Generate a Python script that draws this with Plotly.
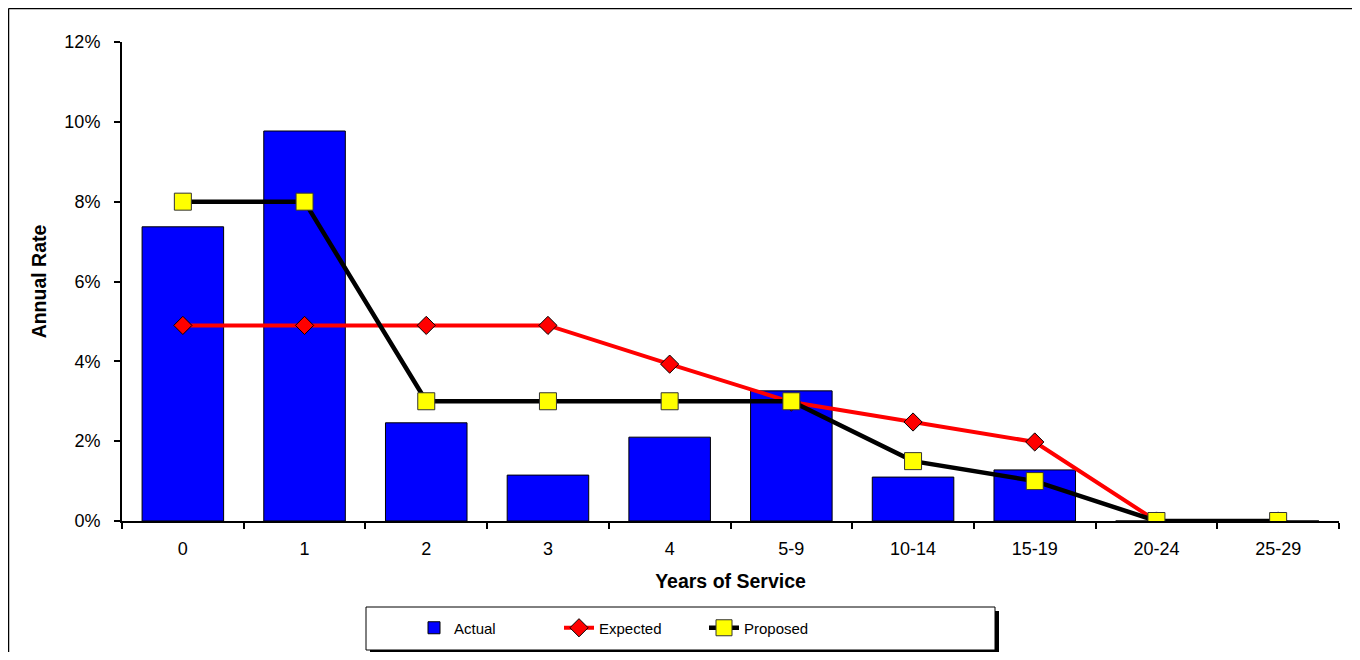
import plotly.graph_objects as go

categories = ["0", "1", "2", "3", "4", "5-9", "10-14", "15-19", "20-24", "25-29"]
actual = [0.0737, 0.0977, 0.0246, 0.0115, 0.0210, 0.0326, 0.0110, 0.0128, 0.0, 0.0]
expected = [0.049, 0.049, 0.049, 0.049, 0.0393, 0.0298, 0.0248, 0.0198, 0.0, 0.0]
proposed = [0.08, 0.08, 0.03, 0.03, 0.03, 0.03, 0.015, 0.01, 0.0, 0.0]
y_ticks = [0, 0.02, 0.04, 0.06, 0.08, 0.10, 0.12]

FONT = "Liberation Sans, Arial, sans-serif"

fig = go.Figure()
fig.add_trace(go.Bar(
    x=categories, y=actual, name="Actual",
    marker=dict(color="#0000FF", line=dict(color="black", width=1)),
))
fig.add_trace(go.Scatter(
    x=categories, y=expected, name="Expected", mode="lines+markers",
    line=dict(color="#FF0000", width=4),
    marker=dict(symbol="diamond", size=14, color="#FF0000", line=dict(color="#000000", width=1)),
))
fig.add_trace(go.Scatter(
    x=categories, y=proposed, name="Proposed", mode="lines+markers",
    line=dict(color="#000000", width=4.5),
    marker=dict(symbol="square", size=17, color="#FFFF00", line=dict(color="#333333", width=1)),
))

# page has an 8px body margin; work in page pixels and shift
OFF = 8
W, H = 1360 - 2 * OFF, 660 - 2 * OFF
L, R, T, B = 122, 1339, 42, 521  # page pixels of plot area
pw, ph = R - L, B - T

def px(x):
    return (x - L) / pw

def py(y):
    return (B - y) / ph

def cy(y):
    # container coordinate from page y
    return 1 - (y - OFF) / H

def cx(x):
    return (x - OFF) / W

shapes = [
    # outer chart border (top and left visible)
    dict(type="line", xref="paper", yref="paper",
         x0=px(OFF + 0.5), x1=px(OFF + 0.5), y0=py(OFF + 0.5), y1=py(700),
         line=dict(color="#000000", width=1.5)),
    dict(type="line", xref="paper", yref="paper",
         x0=px(OFF + 0.5), x1=px(1400), y0=py(OFF + 0.5), y1=py(OFF + 0.5),
         line=dict(color="#000000", width=1.5)),
    # legend shadow
    dict(type="rect", xref="paper", yref="paper",
         x0=px(370), x1=px(999), y0=py(611), y1=py(654),
         line=dict(width=0), fillcolor="#000000", layer="above"),
    # legend box
    dict(type="rect", xref="paper", yref="paper",
         x0=px(366), x1=px(995), y0=py(607), y1=py(650),
         line=dict(color="#000000", width=1), fillcolor="#FFFFFF", layer="above"),
]

fig.update_layout(
    width=W, height=H,
    margin=dict(l=L - OFF, r=(W + OFF) - R, t=T - OFF, b=(H + OFF) - B, autoexpand=False),
    paper_bgcolor="white", plot_bgcolor="white",
    font=dict(family=FONT, size=18, color="black"),
    bargap=0.33,
    showlegend=True,
    legend=dict(
        orientation="h", xref="container", yref="container",
        x=cx(414), xanchor="left", y=cy(628), yanchor="middle",
        bgcolor="rgba(0,0,0,0)", borderwidth=0,
        font=dict(family=FONT, size=15, color="black"),
        entrywidth=100, traceorder="normal", itemwidth=30,
    ),
    shapes=shapes,
    xaxis=dict(
        type="category", categoryorder="array", categoryarray=categories,
        range=[-0.5, len(categories) - 0.5], automargin=False,
        showline=True, linecolor="black", linewidth=2,
        ticks="outside", tickson="boundaries", ticklen=6, tickcolor="black", tickwidth=1.5,
        ticklabelstandoff=10,
        showgrid=False, zeroline=False,
        title=dict(text="<b>Years of Service</b>", font=dict(size=19.5, family=FONT), standoff=17),
        tickfont=dict(size=18, family=FONT),
    ),
    yaxis=dict(
        range=[0, 0.12], tickvals=y_ticks, tickformat=".0%", automargin=False,
        showline=True, linecolor="black", linewidth=2,
        ticks="outside", ticklen=6, tickcolor="black", tickwidth=1.5,
        ticklabelstandoff=10,
        showgrid=False, zeroline=False,
        title=dict(text="<b>Annual Rate</b>", font=dict(size=19.5, family=FONT), standoff=13),
        tickfont=dict(size=18, family=FONT),
    ),
)

fig.write_html("out.html")
